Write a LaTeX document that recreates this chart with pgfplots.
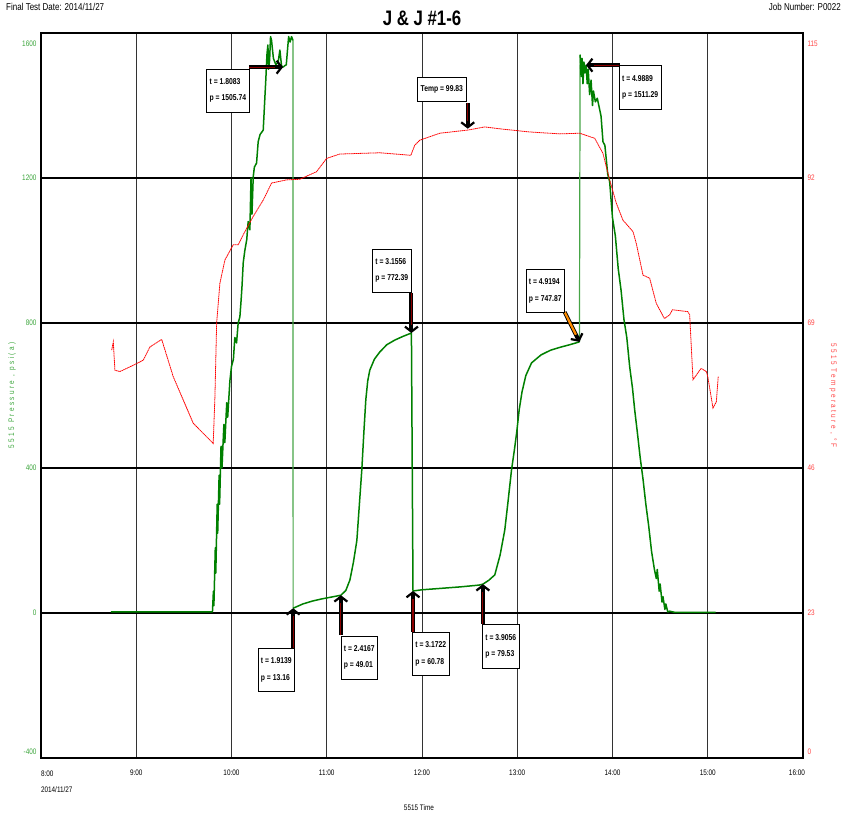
\documentclass[border=0pt]{standalone}
\usepackage{fontspec}
\setmainfont{Liberation Sans}[FakeStretch=0.8]
\newfontfamily\spacedfont{Liberation Sans}[FakeStretch=0.8, LetterSpace=30]
\usepackage{pgfplots}
\pgfplotsset{compat=1.18}
\usetikzlibrary{arrows.meta}
\definecolor{pgreen}{RGB}{0,128,0}
\definecolor{lgreen}{RGB}{60,165,60}
\definecolor{lred}{RGB}{255,70,70}
\definecolor{darkred}{RGB}{140,0,0}
\definecolor{arrorange}{RGB}{255,140,0}
\definecolor{paleline}{RGB}{70,165,70}

\pgfplotstableread{
h p
8.733 3
9.000 3
9.500 3
9.800 3
9.810 60
9.815 20
9.830 180
9.835 110
9.850 300
9.855 220
9.870 380
9.875 300
9.890 460
9.900 400
9.920 520
9.930 470
9.950 580
9.960 540
9.983 640
10.000 680
10.020 700
10.035 760
10.053 745
10.070 800
10.088 817
10.100 860
10.110 900
10.123 966
10.140 1000
10.160 1030
10.175 1080
10.193 1057
10.205 1200
10.215 1100
10.228 1203
10.240 1230
10.263 1241
10.280 1300
10.300 1320
10.333 1332
10.350 1420
10.360 1470
10.372 1540
10.382 1567
10.390 1500
10.400 1525
10.410 1590
10.420 1580
10.440 1530
10.466 1512
10.490 1520
10.508 1553
10.525 1510
10.5416 1505.74
10.560 1510
10.575 1512
10.590 1560
10.600 1590
10.615 1575
10.630 1590
10.645 1580
10.646 nan
10.647 13.16
10.750 25
10.850 33
10.950 39
11.050 44
11.148 49.01
11.200 62
11.243 91
11.280 140
11.316 200
11.340 290
11.368 395
11.390 500
11.410 588
11.430 640
11.452 670
11.500 700
11.557 720
11.630 740
11.715 753
11.800 763
11.8889 772.39
11.9055 60.78
12.000 64
12.200 68
12.400 72
12.600 77
12.639 79.53
12.700 90
12.764 105
12.820 160
12.869 229
12.900 300
12.940 395
12.970 450
12.995 500
13.020 560
13.050 610
13.090 655
13.150 690
13.250 712
13.350 725
13.450 733
13.550 740
13.653 747.87
13.656 nan
13.660 1540
13.670 1480
13.680 1530
13.690 1460
13.700 1520
13.710 1490
13.722 1511.29
13.735 1460
13.745 1500
13.760 1430
13.775 1470
13.790 1400
13.800 1440
13.820 1410
13.840 1420
13.866 1388
13.880 1370
13.900 1300
13.920 1290
13.950 1210
13.970 1190
14.000 1090
14.030 1040
14.060 950
14.090 890
14.120 810
14.150 760
14.180 680
14.210 620
14.233 560
14.260 500
14.290 430
14.320 370
14.350 300
14.380 240
14.410 170
14.440 120
14.460 95
14.470 120
14.490 60
14.500 80
14.520 30
14.530 45
14.550 10
14.560 25
14.580 3
14.600 5
14.650 2
15.083 2
}\pressure

\pgfplotstableread{
h t
8.742 64.7
8.759 66.0
8.776 61.5
8.829 61.3
8.969 62.3
9.073 63.1
9.144 65.2
9.267 66.4
9.388 60.5
9.598 53.1
9.808 49.9
9.826 57.3
9.844 69.0
9.878 75.3
9.931 79.0
10.018 81.4
10.070 81.4
10.123 83.0
10.228 85.9
10.333 88.5
10.421 91.2
10.578 91.7
10.718 91.8
10.893 93.0
10.998 95.1
11.137 95.8
11.557 96.0
11.883 95.6
11.924 97.2
11.977 98.0
12.187 99.1
12.480 99.6
12.659 100.1
12.816 99.8
13.131 99.3
13.446 99.0
13.656 99.1
13.813 98.3
13.900 95.9
13.970 91.7
14.040 88.0
14.110 85.3
14.215 83.5
14.250 81.6
14.320 76.6
14.390 76.1
14.460 72.1
14.545 69.7
14.600 70.3
14.630 71.1
14.790 70.8
14.810 70.3
14.845 60.0
14.930 61.8
14.985 61.3
15.000 60.5
15.055 55.5
15.090 56.5
15.110 60.5
}\temperature

\begin{document}
\begin{tikzpicture}[x=1pt,y=1pt,
  box/.style={draw=black, line width=0.6pt, fill=white, align=left,
    font=\bfseries\fontsize{8.5}{16.5}\selectfont, inner xsep=3pt, inner ysep=9.5pt},
  arr/.style={line width=4pt, black, -{Straight Barb[length=5pt,width=13pt,line width'=2.2pt]}},
  core/.style={line width=1.1pt, darkred, shorten >=8pt}]
\useasboundingbox (0,0) rectangle (848,816);

\begin{axis}[
  at={(41pt,58pt)}, anchor=south west,
  scale only axis, width=762pt, height=725pt,
  xmin=8, xmax=16, ymin=-400, ymax=1600,
  unbounded coords=jump,
  xtick={8,...,16},
  xticklabels={{\rlap{\begin{tabular}{@{}l@{}}8:00\\[6pt]2014/11/27\end{tabular}}},9:00,10:00,11:00,12:00,13:00,14:00,15:00,{\llap{16:00\hspace*{-2pt}}}},
  ytick={-400,0,400,800,1200,1600},
  yticklabels={{\smash{\raisebox{3.1pt}{-400}}},0,400,800,1200,{\smash{\raisebox{-13.9pt}{1600}}}},
  major tick length=0pt,
  tick label style={font=\fontsize{8}{10}\selectfont},
  xticklabel style={yshift=-8pt, text=black},
  yticklabel style={text=lgreen, xshift=-1pt},
  xmajorgrids, ymajorgrids,
  x grid style={black!80, line width=0.8pt},
  y grid style={black, line width=1.8pt},
  axis line style={line width=1.8pt},
  xlabel={5515 Time},
  ylabel={\spacedfont 5515 Pressure , psi(a)},
  every axis x label/.style={at={(axis description cs:0.496,-0.069)}, anchor=center, font=\fontsize{8}{10}\selectfont},
  every axis y label/.style={at={(axis description cs:-0.038,0.5)}, anchor=center, rotate=90, font=\fontsize{8}{10}\selectfont, text=lgreen},
]
\addplot[paleline, line width=1.2pt] coordinates {(10.645,1580) (10.647,13.16)};
\addplot[paleline, line width=1.2pt] coordinates {(13.653,747.87) (13.660,1540)};
\addplot[pgreen, line width=1.5pt, line join=round] table[x=h, y=p] {\pressure};
\coordinate (b1) at (axis cs:9.962,1441);
\coordinate (a1s) at (axis cs:10.183,1505.74); \coordinate (a1e) at (axis cs:10.541,1505.74);
\coordinate (bT) at (axis cs:12.208,1444);
\coordinate (aTs) at (axis cs:12.48,1407); \coordinate (aTe) at (axis cs:12.48,1336);
\coordinate (b3) at (axis cs:11.683,945);
\coordinate (a3s) at (axis cs:11.889,883); \coordinate (a3e) at (axis cs:11.889,772.39);
\coordinate (b4) at (axis cs:13.294,888);
\coordinate (a4s) at (axis cs:13.498,830); \coordinate (a4e) at (axis cs:13.653,747.87);
\coordinate (b5) at (axis cs:14.291,1450);
\coordinate (a5s) at (axis cs:14.075,1511.29); \coordinate (a5e) at (axis cs:13.722,1511.29);
\coordinate (b6) at (axis cs:10.471,-157);
\coordinate (a6s) at (axis cs:10.647,-97); \coordinate (a6e) at (axis cs:10.647,13.16);
\coordinate (b7) at (axis cs:11.342,-123);
\coordinate (a7s) at (axis cs:11.148,-61); \coordinate (a7e) at (axis cs:11.148,49.01);
\coordinate (b8) at (axis cs:12.092,-113);
\coordinate (a8s) at (axis cs:11.9055,-52); \coordinate (a8e) at (axis cs:11.9055,60.78);
\coordinate (b9) at (axis cs:12.827,-92);
\coordinate (a9s) at (axis cs:12.639,-30); \coordinate (a9e) at (axis cs:12.639,79.53);
\end{axis}

\begin{axis}[
  at={(41pt,58pt)}, anchor=south west,
  scale only axis, width=762pt, height=725pt,
  xmin=8, xmax=16, ymin=0, ymax=115,
  axis x line=none, axis y line*=right,
  ytick={0,23,46,69,92,115},
  yticklabels={{\smash{\raisebox{3.1pt}{0}}},23,46,69,92,{\smash{\raisebox{-13.9pt}{115}}}},
  major tick length=0pt,
  tick label style={font=\fontsize{8}{10}\selectfont},
  yticklabel style={text=lred, xshift=1pt},
  axis line style={line width=1.8pt},
  ylabel={\spacedfont 5515 Temperature , °F},
  every axis y label/.style={at={(axis description cs:1.0394,0.5)}, anchor=center, rotate=-90, font=\fontsize{8}{10}\selectfont, text=lred},
]
\addplot[red, line width=0.8pt, dash pattern=on 1.4pt off 0.5pt] table[x=h, y=t] {\temperature};
\end{axis}

% annotations
\draw[arr] (a1s) -- (a1e); \draw[core] (a1s) -- (a1e);
\draw[arr] (aTs) -- (aTe); \draw[core] (aTs) -- (aTe);
\draw[arr] (a3s) -- (a3e); \draw[core] (a3s) -- (a3e);
\draw[line width=4pt, black, -{Straight Barb[length=5pt,width=13pt,line width'=2.2pt]}] (a4s) -- (a4e);
\draw[line width=2.2pt, arrorange, shorten >=8pt] (a4s) -- (a4e);
\draw[arr] (a5s) -- (a5e); \draw[core] (a5s) -- (a5e);
\draw[arr] (a6s) -- (a6e); \draw[core] (a6s) -- (a6e);
\draw[arr] (a7s) -- (a7e); \draw[core] (a7s) -- (a7e);
\draw[arr] (a8s) -- (a8e); \draw[core] (a8s) -- (a8e);
\draw[arr] (a9s) -- (a9e); \draw[core] (a9s) -- (a9e);

\node[box] at (b1) {t = 1.8083\\p = 1505.74};
\node[box, inner ysep=8pt] at (bT) {Temp = 99.83};
\node[box] at (b3) {t = 3.1556\\p = 772.39};
\node[box] at (b4) {t = 4.9194\\p = 747.87};
\node[box] at (b5) {t = 4.9889\\p = 1511.29};
\node[box] at (b6) {t = 1.9139\\p = 13.16};
\node[box] at (b7) {t = 2.4167\\p = 49.01};
\node[box] at (b8) {t = 3.1722\\p = 60.78};
\node[box] at (b9) {t = 3.9056\\p = 79.53};

% header
\node[anchor=base west, font=\fontsize{10}{12}\selectfont, inner sep=0pt] at (6,805) {Final Test Date: 2014/11/27};
\node[anchor=base east, font=\fontsize{10}{12}\selectfont, inner sep=0pt] at (841,805) {Job Number: P0022};
\node[anchor=base, font=\bfseries\fontsize{21}{24}\selectfont, inner sep=0pt] at (422,790) {J \& J \#1-6};
\end{tikzpicture}
\end{document}
